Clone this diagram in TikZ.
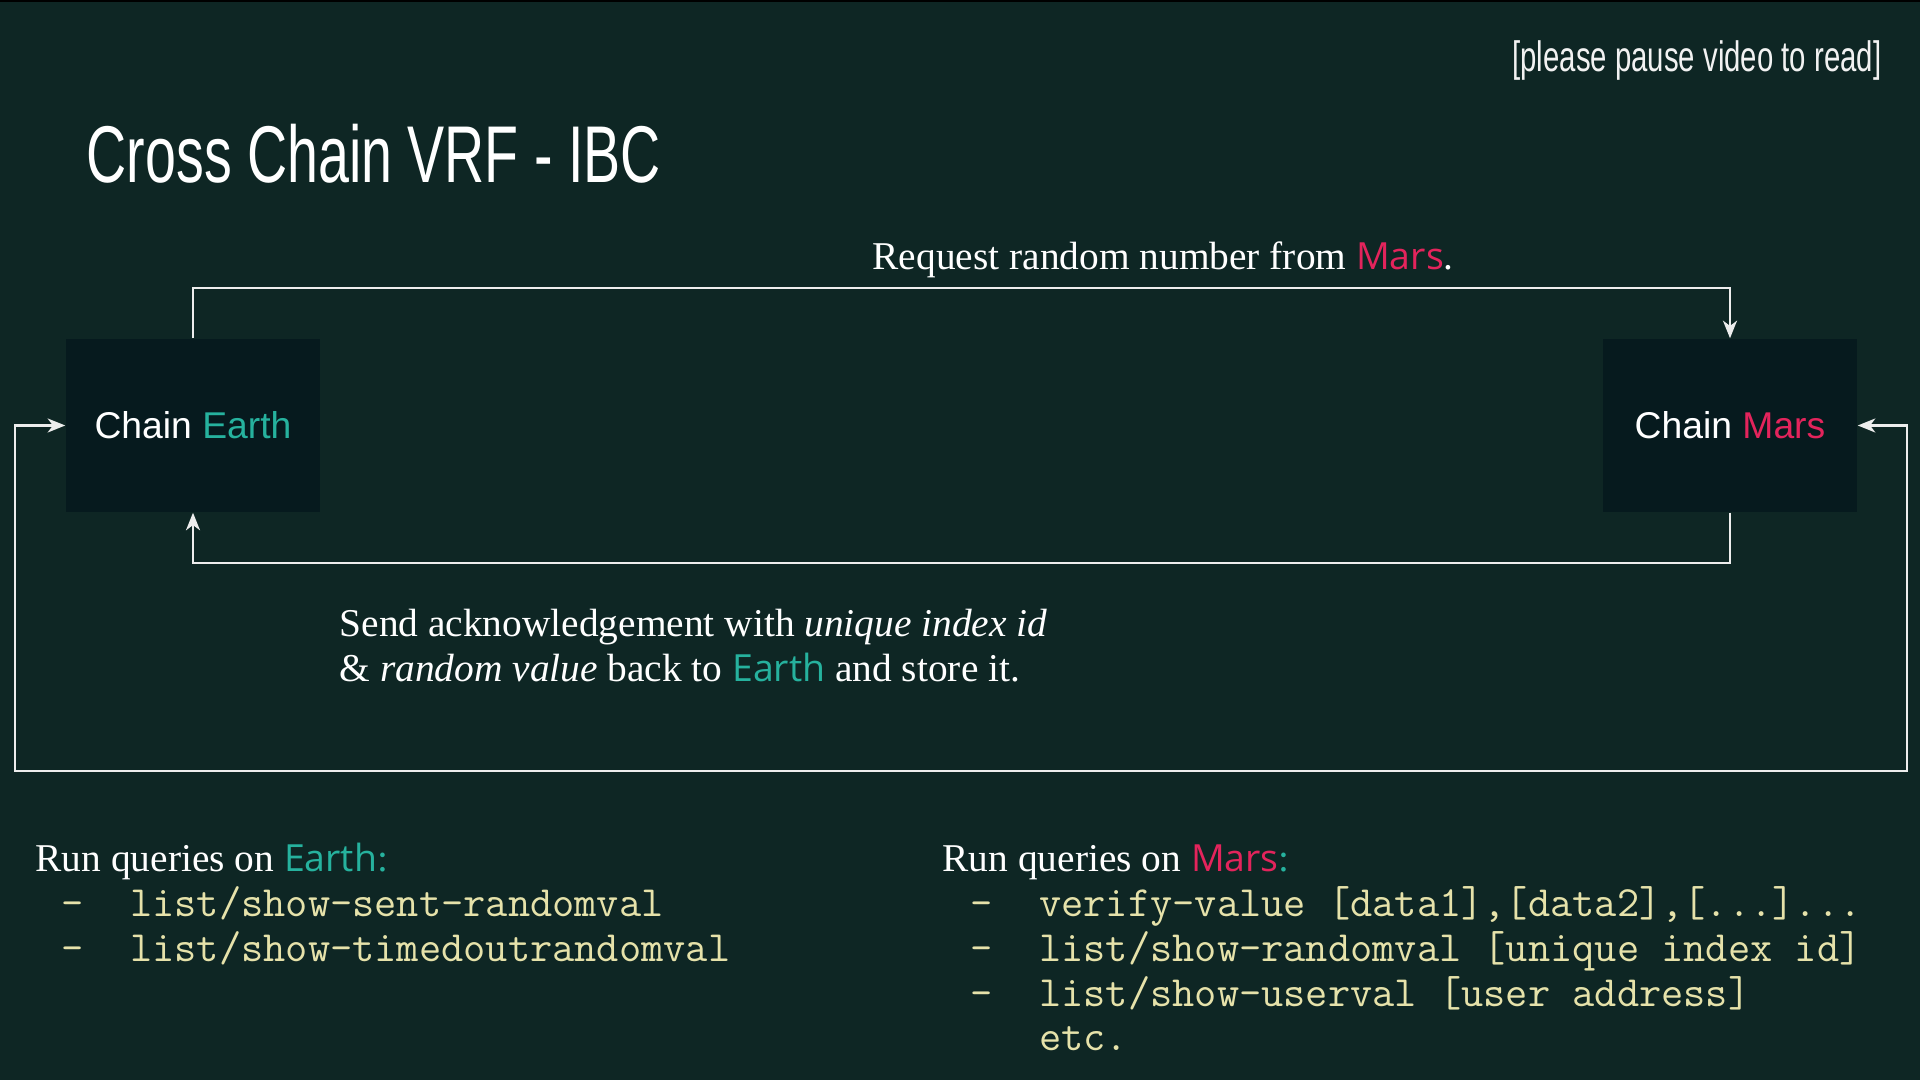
\documentclass[tikz,border=0pt]{standalone}
\usepackage{fontspec}
\setmainfont{Liberation Serif}
\setsansfont{Liberation Sans}
\newfontfamily\condfont[FakeStretch=0.69]{Liberation Sans}
\newfontfamily\accentfont[Scale=0.95]{Open Sans}
\usetikzlibrary{arrows.meta}

\definecolor{slatebg}{HTML}{0E2624}
\definecolor{chainbg}{HTML}{061A1E}
\definecolor{earthcol}{HTML}{26B29E}
\definecolor{marscol}{HTML}{E3245C}
\definecolor{querycol}{HTML}{E6E2AA}
\definecolor{linecol}{HTML}{EDEDED}

\newcommand{\earthword}{{\accentfont\color{earthcol}Earth}}
\newcommand{\marsword}{{\accentfont\color{marscol}Mars}}
\newcommand{\qdash}{\makebox[19.5pt][l]{-}}

\begin{document}
\begin{tikzpicture}[x=0.01cm, y=-0.01cm, every node/.style={text=white},
    >={Stealth[length=5pt,width=4pt,inset=1.5pt]},
    chain/.style={fill=chainbg, minimum width=2.54cm, minimum height=1.73cm,
      inner sep=0pt, font=\sffamily\fontsize{10.6}{12}\selectfont},
    flow/.style={draw=linecol, line width=0.6pt},
    prose/.style={anchor=base west, inner sep=0pt, font=\fontsize{11.2}{13}\selectfont},
    query/.style={anchor=base west, inner sep=0pt, text=querycol,
      font=\ttfamily\fontsize{12.27}{14}\selectfont}]
  \fill[slatebg] (0,0) rectangle (1920,1080);
  \fill[black] (0,0) rectangle (1920,2);
  \useasboundingbox (0,0) rectangle (1920,1080);

  % heading
  \node[anchor=base west, inner sep=0pt, font=\condfont\fontsize{22.9}{27}\selectfont]
    (title) at (86,183) {Cross Chain VRF - IBC};
  \node[anchor=base east, inner sep=0pt, text=white!90!gray,
    font=\condfont\fontsize{12.1}{14}\selectfont]
    (pause) at (1882,72) {[please pause video to read]};

  % the two chains
  \node[chain] (earth) at (193,425.5) {Chain \textcolor{earthcol}{Earth}};
  \node[chain] (mars) at (1730,425.5) {Chain \textcolor{marscol}{Mars}};

  \draw[flow, ->] (earth.north) -- ++(0,-50) -| (mars.north);
  \draw[flow, ->] (mars.south) -- ++(0,50) -| (earth.south);
  \coordinate (loopend) at (1907,771);
  \draw[flow, <->] (earth.west) -- ++(-50,0) |- (loopend) |- (mars.east);

  \node[prose] (reqtext) at (872,270) {Request random number from \marsword.};
  \node[prose] (ack1) at (339,637) {Send acknowledgement with \textit{unique index id}};
  \node[prose] (ack2) at (339,682) {\& \textit{random value} back to \earthword{} and store it.};

  % queries on Earth
  \node[prose] (earthq) at (35,872) {Run queries on \earthword\textcolor{earthcol}{:}};
  \node[query] (eq1) at (61,917) {\qdash list/show-sent-randomval};
  \node[query] (eq2) at (61,962) {\qdash list/show-timedoutrandomval};

  % queries on Mars
  \node[prose] (marsq) at (942,872) {Run queries on \marsword\textcolor{earthcol}{:}};
  \node[query] (mq1) at (970,917) {\qdash verify-value [data1],[data2],[...]...};
  \node[query] (mq2) at (970,962) {\qdash list/show-randomval [unique index id]};
  \node[query] (mq3) at (970,1007) {\qdash list/show-userval [user address]};
  \node[query] (mq4) at (970,1051) {\makebox[19.5pt]{}etc.};
\end{tikzpicture}
\end{document}
